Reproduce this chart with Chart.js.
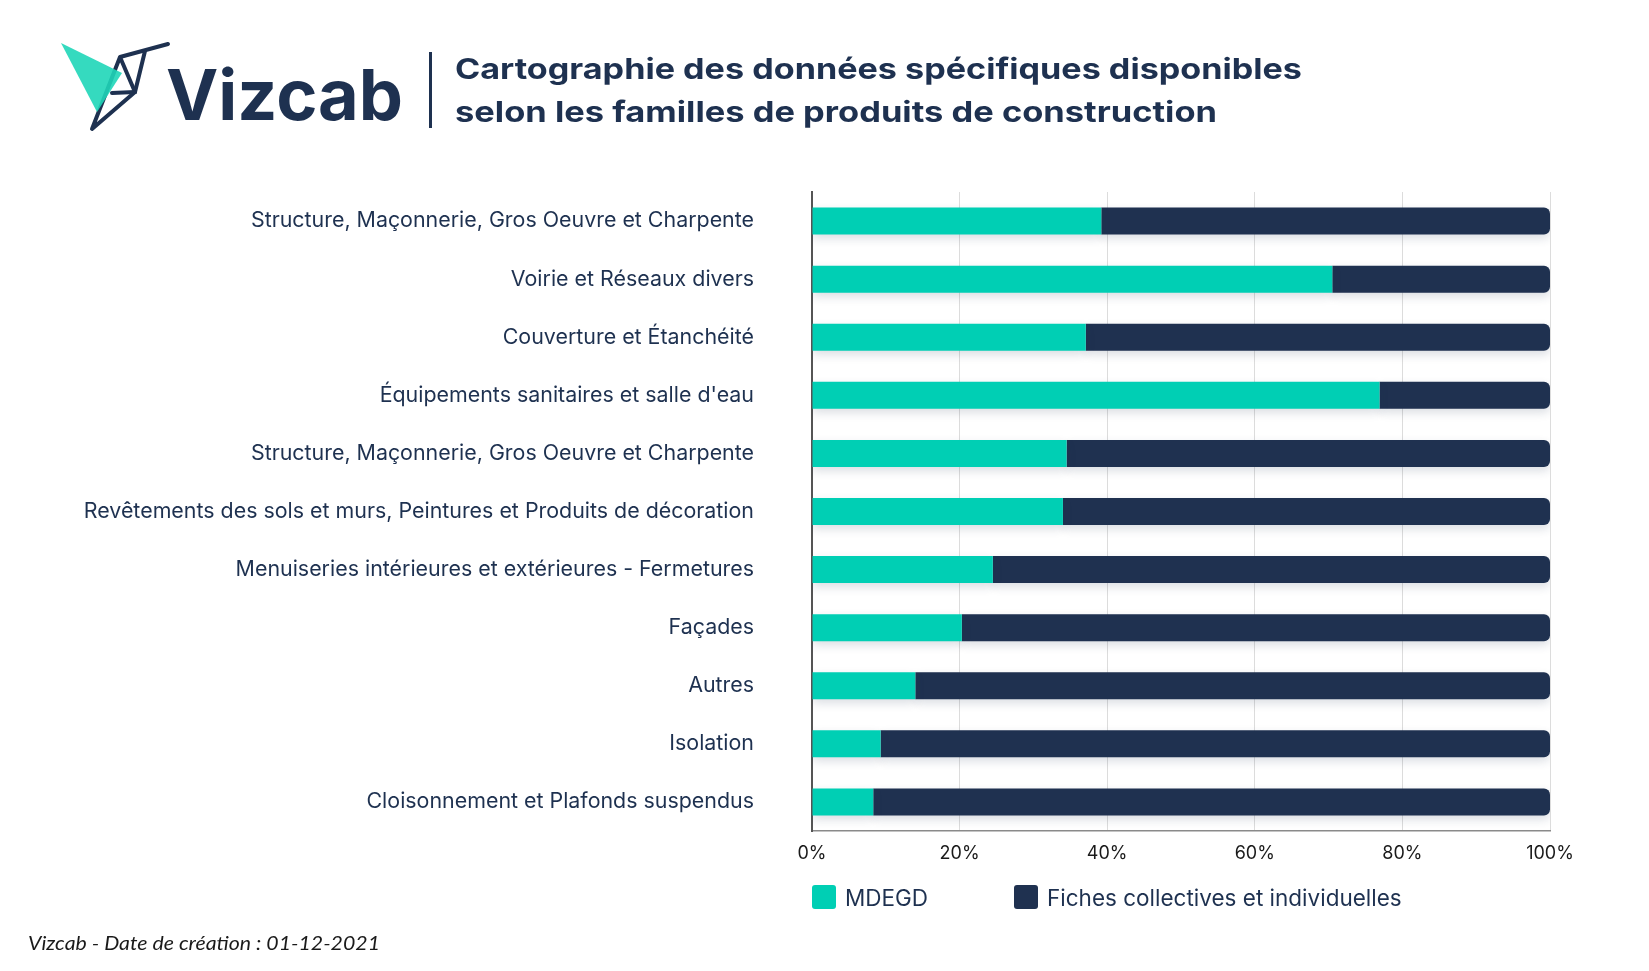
<!DOCTYPE html>
<html lang="fr">
<head>
    <meta charset="UTF-8">
    <title>Cartographie des données spécifiques disponibles</title>
    <script src="https://cdn.jsdelivr.net/npm/chart.js"></script>
    <style>
        body {
            margin: 0;
            width: 1649px;
            height: 971px;
            background: #fff;
            position: relative;
            overflow: hidden;
            font-family: Inter, "Noto Sans", sans-serif;
        }
        #chart, .overlay {
            position: absolute;
            left: 0;
            top: 0;
        }
        .overlay { pointer-events: none; }
        .legend-item {
            position: absolute;
            top: 885px;
            height: 24px;
            display: flex;
            align-items: center;
            color: #1e3150;
            font-size: 22.5px;
            white-space: nowrap;
        }
        .legend-box {
            width: 24px;
            height: 24px;
            border-radius: 3px;
            margin-right: 9px;
        }
    </style>
</head>
<body>

<canvas id="chart" width="1649" height="971"></canvas>

<svg class="overlay" width="1649" height="971">
    <!-- logo -->
    <g stroke="#1e3150" stroke-width="4" fill="none" stroke-linecap="round" stroke-linejoin="round">
        <polyline points="168,44 120,57 92,129 135,92 120,57"/>
        <line x1="145" y1="51" x2="135" y2="92"/>
        <line x1="112" y1="93" x2="135" y2="92"/>
    </g>
    <polygon points="61,43 122,73 97,112" fill="#1fd6b8" opacity="0.9"/>
    <text x="166" y="120" font-family="Inter" font-weight="700" font-size="70" fill="#1e3150"
          textLength="237" lengthAdjust="spacingAndGlyphs">Vizcab</text>
    <rect x="429" y="52" width="3" height="76" fill="#1e3150"/>

    <!-- title -->
    <text x="455" y="79" font-family="Inter" font-weight="700" font-size="29" fill="#1e3150"
          textLength="847" lengthAdjust="spacingAndGlyphs">Cartographie des données spécifiques disponibles</text>
    <text x="455" y="122" font-family="Inter" font-weight="700" font-size="29" fill="#1e3150"
          textLength="762" lengthAdjust="spacingAndGlyphs">selon les familles de produits de construction</text>

    <!-- footer -->
    <text x="28" y="950" font-family="Lato" font-style="italic" font-size="20" fill="#1a1a1a"
          textLength="352" lengthAdjust="spacingAndGlyphs">Vizcab - Date de création : 01-12-2021</text>
</svg>

<div id="legend"></div>

<script>
    const categories = [
        'Structure, Maçonnerie, Gros Oeuvre et Charpente',
        'Voirie et Réseaux divers',
        'Couverture et Étanchéité',
        "Équipements sanitaires et salle d'eau",
        'Structure, Maçonnerie, Gros Oeuvre et Charpente',
        'Revêtements des sols et murs, Peintures et Produits de décoration',
        'Menuiseries intérieures et extérieures - Fermetures',
        'Façades',
        'Autres',
        'Isolation',
        'Cloisonnement et Plafonds suspendus'
    ];
    // share of MDEGD per family (%)
    const mdegd = [39.2, 70.5, 37.1, 76.9, 34.5, 34.0, 24.5, 20.3, 14.0, 9.3, 8.3];
    // share of collective / individual sheets (%)
    const fiches = [60.8, 29.5, 62.9, 23.1, 65.5, 66.0, 75.5, 79.7, 86.0, 90.7, 91.7];
    const seriesNames = ['MDEGD', 'Fiches collectives et individuelles'];
    const seriesColors = ['#00cfb4', '#1f3150'];
    const xTicks = [0, 20, 40, 60, 80, 100];

    // soft shadow under the bars
    const barShadow = {
        id: 'barShadow',
        beforeDatasetsDraw(chart) {
            const c = chart.ctx;
            c.save();
            c.shadowColor = 'rgba(30, 49, 80, 0.16)';
            c.shadowBlur = 10;
            c.shadowOffsetY = 4;
        },
        afterDatasetsDraw(chart) {
            chart.ctx.restore();
        }
    };

    function buildLegend() {
        const lefts = [812, 1014];
        const holder = document.getElementById('legend');
        seriesNames.forEach((name, i) => {
            const item = document.createElement('div');
            item.className = 'legend-item';
            item.style.left = lefts[i] + 'px';
            const box = document.createElement('span');
            box.className = 'legend-box';
            box.style.background = seriesColors[i];
            const txt = document.createElement('span');
            txt.textContent = name;
            item.appendChild(box);
            item.appendChild(txt);
            holder.appendChild(item);
        });
    }

    function plotChart() {
        const ctx = document.getElementById('chart').getContext('2d');
        new Chart(ctx, {
            type: 'bar',
            data: {
                labels: categories,
                datasets: [
                    {
                        label: seriesNames[0],
                        data: mdegd,
                        backgroundColor: seriesColors[0],
                        borderRadius: 0
                    },
                    {
                        label: seriesNames[1],
                        data: fiches,
                        backgroundColor: seriesColors[1],
                        borderRadius: 6,
                        borderSkipped: 'start'
                    }
                ]
            },
            options: {
                indexAxis: 'y',
                responsive: false,
                animation: false,
                datasets: {
                    bar: { barPercentage: 0.465, categoryPercentage: 1 }
                },
                layout: {
                    padding: { top: 192, right: 99, bottom: 100, left: 0 }
                },
                scales: {
                    x: {
                        stacked: true,
                        min: 0,
                        max: 100,
                        afterBuildTicks: scale => {
                            scale.ticks = xTicks.map(v => ({ value: v }));
                        },
                        afterFit: scale => { scale.height = 40; },
                        grid: {
                            color: '#dcdcdc',
                            lineWidth: 1,
                            drawTicks: false
                        },
                        border: { color: '#8a8a8a', width: 1.5 },
                        ticks: {
                            padding: 12,
                            color: '#1a1a1a',
                            font: { family: 'Inter', size: 18 },
                            callback: v => v + '%'
                        }
                    },
                    y: {
                        stacked: true,
                        afterFit: scale => { scale.width = 812; },
                        grid: { display: false, drawTicks: false },
                        border: { color: '#555', width: 2 },
                        ticks: {
                            padding: 58,
                            color: '#1e3150',
                            font: { family: 'Inter', size: 21.4 }
                        }
                    }
                },
                plugins: {
                    legend: { display: false },
                    tooltip: { enabled: false }
                }
            },
            plugins: [barShadow]
        });
    }

    buildLegend();
    plotChart();
</script>

</body>
</html>
